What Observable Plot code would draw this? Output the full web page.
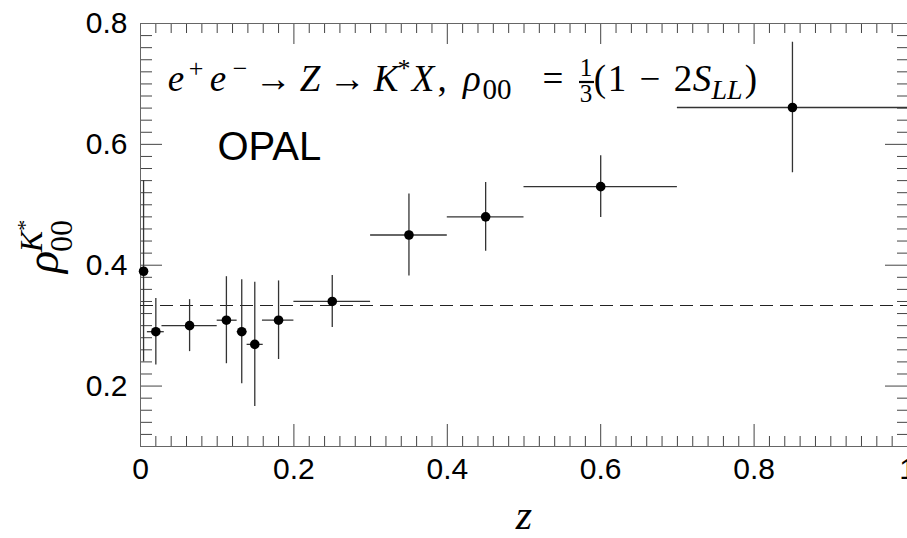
<!DOCTYPE html>
<html><head><meta charset="utf-8">
<script src="https://cdn.jsdelivr.net/npm/d3@7"></script>
<script src="https://cdn.jsdelivr.net/npm/@observablehq/plot@0.6"></script>
<style>body{margin:0;background:#fff;overflow:hidden} svg{display:block}</style>
</head><body><div id="chart"></div>
<script>
// ---- data ----
const z      = [0.004, 0.020, 0.064, 0.112, 0.132, 0.149, 0.180, 0.250, 0.350, 0.450, 0.600, 0.850];
const zLow   = [0.002, 0.009, 0.028, 0.100, 0.126, 0.139, 0.159, 0.200, 0.300, 0.400, 0.500, 0.700];
const zHigh  = [0.006, 0.031, 0.100, 0.126, 0.139, 0.160, 0.200, 0.300, 0.400, 0.500, 0.700, 1.000];
const rho    = [0.390, 0.290, 0.300, 0.309, 0.290, 0.269, 0.309, 0.340, 0.450, 0.480, 0.530, 0.661];
const rhoErr = [0.150, 0.055, 0.043, 0.072, 0.086, 0.103, 0.065, 0.043, 0.068, 0.057, 0.051, 0.108];
const refLine = [1/3];
const xTickValues = [0, 0.2, 0.4, 0.6, 0.8, 1];
const xTickLabels = ["0", "0.2", "0.4", "0.6", "0.8", "1"];
const yTickValues = [0.2, 0.4, 0.6, 0.8];
const yTickLabels = ["0.2", "0.4", "0.6", "0.8"];
const xMinor = d3.range(0, 51).filter(i => i % 10 !== 0).map(i => i / 50);
const yMinor = d3.range(5, 41).filter(i => i % 10 !== 0).map(i => i / 50);

const data = z.map((v, i) => ({z: v, lo: zLow[i], hi: zHigh[i], rho: rho[i], err: rhoErr[i]}));

const W = 907, H = 538, mt = 23, mb = 92, ml = 140, mr = 0;
const innerH = H - mt - mb, innerW = W - ml - mr;
const tickColor = "#444";
const sans = "Liberation Sans, Arial, sans-serif";
const serif = "Liberation Serif, Times New Roman, serif";

const svg = Plot.plot({
  width: W, height: H,
  marginTop: mt, marginBottom: mb, marginLeft: ml, marginRight: mr,
  x: {domain: [0, 1], axis: null},
  y: {domain: [0.1, 0.8], axis: null},
  style: {background: "white", overflow: "visible"},
  marks: [
    // minor ticks (inward)
    Plot.tickX(xMinor, {x: d => d, insetTop: innerH - 10, stroke: tickColor}),
    Plot.tickX(xMinor, {x: d => d, insetBottom: innerH - 10, stroke: tickColor}),
    Plot.tickY(yMinor, {y: d => d, insetRight: innerW - 12, stroke: tickColor}),
    Plot.tickY(yMinor, {y: d => d, insetLeft: innerW - 10, stroke: tickColor}),
    // major ticks
    Plot.tickX(xTickValues, {x: d => d, insetTop: innerH - 22, stroke: tickColor}),
    Plot.tickX(xTickValues, {x: d => d, insetBottom: innerH - 21, stroke: tickColor}),
    Plot.tickY(yTickValues, {y: d => d, insetRight: innerW - 22, stroke: tickColor}),
    Plot.tickY(yTickValues, {y: d => d, insetLeft: innerW - 22, stroke: tickColor}),
    Plot.frame({stroke: "#666"}),
    // tick labels
    Plot.text(xTickValues, {x: d => d, text: (d, i) => xTickLabels[i], frameAnchor: "bottom", dy: 32,
      fontSize: 30, fontFamily: sans, fill: "black"}),
    Plot.text(yTickValues, {y: d => d, text: (d, i) => yTickLabels[i], frameAnchor: "left", dx: -13,
      textAnchor: "end", fontSize: 30, fontFamily: sans, fill: "black"}),
    // reference line rho00 = 1/3
    Plot.ruleY(refLine, {y: d => d, stroke: "#222", strokeWidth: 1.2, strokeDasharray: "13,7"}),
    // error bars
    Plot.ruleY(data, {y: "rho", x1: "lo", x2: "hi", stroke: "#333", strokeWidth: 1.3}),
    Plot.ruleX(data, {x: "z", y1: d => d.rho - d.err, y2: d => d.rho + d.err, stroke: "#333", strokeWidth: 1.3}),
    Plot.dot(data, {x: "z", y: "rho", r: 4.8, fill: "black", stroke: "none"}),
    // OPAL label
    Plot.text(["OPAL"], {frameAnchor: "top-left", dx: 77, dy: 136, lineAnchor: "bottom",
      textAnchor: "start", fontSize: 40, fontFamily: sans, fill: "black"})
  ]
});
document.getElementById("chart").appendChild(svg);

const s = d3.select(svg);

// title formula, laid out glyph group by glyph group (centres in px)
const F = 37, Fs = 26, Fb = 29;
const base = 91, supY = 77, subY = 99;
const title = [
  {t: "e", x: 176, i: true},
  {t: "+", x: 196, y: supY, f: Fs},
  {t: "e", x: 218, i: true},
  {t: "\u2212", x: 240, y: supY, f: Fs},
  {t: "\u2192", x: 273},
  {t: "Z", x: 310, i: true},
  {t: "\u2192", x: 347},
  {t: "K", x: 386, i: true},
  {t: "*", x: 404, y: supY, f: Fs},
  {t: "X", x: 423, i: true},
  {t: ",", x: 442},
  {t: "\u03C1", x: 472, i: true},
  {t: "00", x: 497, y: subY, f: Fb},
  {t: "=", x: 553},
  {t: "(", x: 600},
  {t: "1", x: 617},
  {t: "\u2212", x: 650},
  {t: "2", x: 683},
  {t: "S", x: 702, i: true},
  {t: "LL", x: 727, y: subY, f: Fb - 1, i: true},
  {t: ")", x: 751}
];
for (const p of title) {
  s.append("text").attr("x", p.x).attr("y", p.y || base).attr("text-anchor", "middle")
    .attr("font-family", serif).attr("font-size", p.f || F)
    .attr("font-style", p.i ? "italic" : "normal").attr("fill", "black").text(p.t);
}
// fraction 1/3
s.append("text").attr("x", 586).attr("y", 76).attr("text-anchor", "middle")
  .attr("font-family", serif).attr("font-size", 25).text("1");
s.append("line").attr("x1", 579).attr("x2", 594).attr("y1", 82).attr("y2", 82)
  .attr("stroke", "black").attr("stroke-width", 2.2);
s.append("text").attr("x", 586).attr("y", 102).attr("text-anchor", "middle")
  .attr("font-family", serif).attr("font-size", 25).text("3");

// y label rho_00^{K*}
const g = s.append("g").attr("transform", "translate(58,262) rotate(-90)");
const yl = g.append("text").attr("font-family", serif).attr("fill", "black");
yl.append("tspan").attr("x", 0).attr("y", 0).attr("font-size", 46).attr("font-style", "italic").text("\u03C1");
yl.append("tspan").attr("x", 26).attr("y", 14).attr("font-size", 32).text("00");
yl.append("tspan").attr("x", 26).attr("y", -16).attr("font-size", 32).attr("font-style", "italic").text("K");
yl.append("tspan").attr("dy", -10).attr("font-size", 22).text("*");

// x label
s.append("text").attr("x", 524).attr("y", 529).attr("text-anchor", "middle")
  .attr("font-family", serif).attr("font-style", "italic").attr("font-size", 42).text("z");
</script>
</body></html>
